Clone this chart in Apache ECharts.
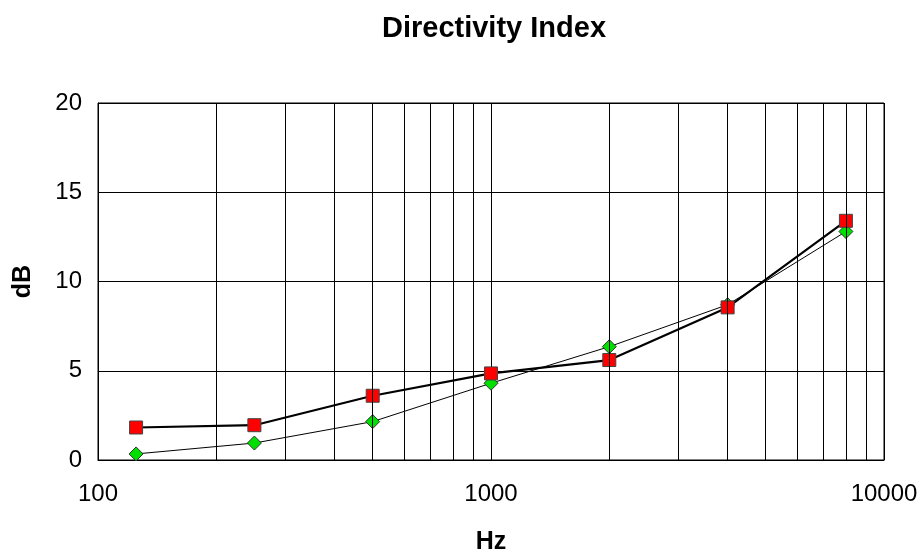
<!DOCTYPE html>
<html>
<head>
<meta charset="UTF-8">
<script src="https://cdn.jsdelivr.net/npm/echarts@6/dist/echarts.min.js"></script>
</head>
<body style="margin:0;background:#fff;">
<div id="chart" style="width:920px;height:556px;"></div>
<script type="text/javascript">
// frequencies (Hz) and directivity index (dB)
var freqs = [125, 250, 500, 1000, 2000, 4000, 8000];
var seriesA = [1.82, 1.95, 3.6, 4.85, 5.6, 8.55, 13.4];
var seriesB = [0.34, 0.95, 2.15, 4.3, 6.35, 8.7, 12.8];
// minor log grid lines
var minorLines = [200, 300, 400, 500, 600, 700, 800, 900, 2000, 3000, 4000, 5000, 6000, 7000, 8000, 9000];

function pairs(xs, ys) {
    var out = [];
    for (var i = 0; i < xs.length; i++) out.push([xs[i], ys[i]]);
    return out;
}

var chart = echarts.init(document.getElementById('chart'));
var font = 'Liberation Sans';

var option = {
    animation: false,
    title: {
        text: 'Directivity Index',
        left: 489, top: 9, textAlign: 'center',
        textStyle: {fontFamily: font, fontSize: 29, fontWeight: 'bold', color: '#000'}
    },
    grid: {
        left: 98, right: 36, top: 103, bottom: 96,
        outerBoundsMode: 'none', containLabel: false,
        show: true, borderColor: '#000', borderWidth: 1
    },
    xAxis: {
        type: 'log', logBase: 10, min: 100, max: 10000,
        name: 'Hz', nameLocation: 'middle', nameGap: 70,
        nameTextStyle: {fontFamily: font, fontSize: 25, fontWeight: 'bold', color: '#000'},
        axisLine: {lineStyle: {color: '#000'}},
        axisTick: {show: false},
        axisLabel: {
            fontFamily: font, fontSize: 24, color: '#000', margin: 22,
            formatter: function (v) { return String(v); }
        },
        splitLine: {show: true, lineStyle: {color: '#000', width: 1}}
    },
    yAxis: {
        type: 'value', min: 0, max: 20, interval: 5,
        name: 'dB', nameLocation: 'middle', nameGap: 62,
        nameTextStyle: {fontFamily: font, fontSize: 25, fontWeight: 'bold', color: '#000'},
        axisLine: {show: true, lineStyle: {color: '#000'}},
        axisTick: {show: false},
        axisLabel: {fontFamily: font, fontSize: 24, color: '#000', margin: 16},
        splitLine: {show: true, lineStyle: {color: '#000', width: 1}}
    },
    series: [
        {
            type: 'line', data: pairs(freqs, seriesB), z: 3,
            symbol: 'diamond', symbolSize: 14,
            lineStyle: {color: '#000', width: 1},
            itemStyle: {color: '#00e000', borderColor: '#333', borderWidth: 1},
            markLine: {
                silent: true, symbol: 'none', label: {show: false},
                lineStyle: {color: '#000', width: 1, type: 'solid'},
                data: minorLines.map(function (v) { return {xAxis: v}; })
            }
        },
        {
            type: 'line', data: pairs(freqs, seriesA), z: 4,
            symbol: 'rect', symbolSize: 13,
            lineStyle: {color: '#000', width: 2.2},
            itemStyle: {color: '#ff0000', borderColor: '#444', borderWidth: 1}
        }
    ]
};

chart.setOption(option);
</script>
</body>
</html>
